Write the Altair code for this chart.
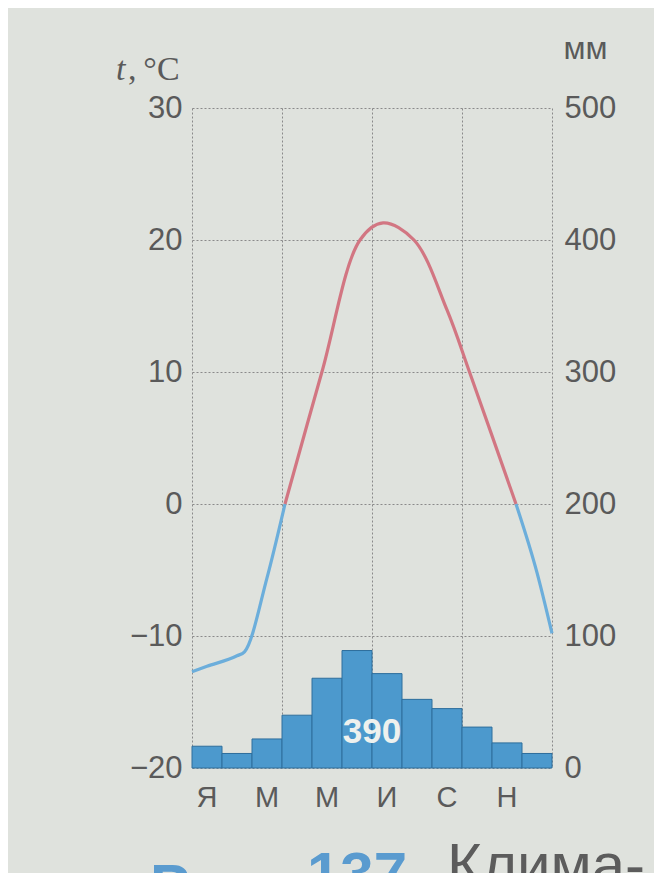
import altair as alt
import pandas as pd

# ---------------- data ----------------
month_labels = ["Я", "М", "М", "И", "С", "Н"]
month_label_pos = [0.5, 2.5, 4.5, 6.5, 8.5, 10.5]

precip_mm = [16.5, 11, 22, 40, 68, 89, 71.5, 52, 45, 31, 19, 11]
precip_total = "390"
precip_total_pos = (6.0, -17.3)

# temperature curve (month position, °C) split at the 0 °C crossings
cold1_t = [0, 0.5, 1.5, 1.75, 2.5, 3.1]
cold1_v = [-12.7, -12.3, -11.5, -11.2, -5.6, 0]
warm_t = [3.1, 4.33, 5.6, 6.37, 7.4, 8.5, 9.25, 10.8]
warm_v = [0, 10, 20, 21.3, 20, 14.7, 10, 0]
cold2_t = [10.8, 11.5, 12]
cold2_v = [0, -5.2, -9.8]

temp_ticks = [-20, -10, 0, 10, 20, 30]
mm_ticks = [0, 100, 200, 300, 400, 500]
x_grid = [0, 3, 6, 9, 12]

caption_parts = ["Рис.", "137.", "Клима-"]

# ---------------- tables ----------------
bars_df = pd.DataFrame({
    "start": list(range(12)),
    "end": [i + 1 for i in range(12)],
    "mm": precip_mm,
    "base": [0] * 12,
})
cold_df = pd.concat([
    pd.DataFrame({"t": cold1_t, "temp": cold1_v, "seg": "cold1"}),
    pd.DataFrame({"t": cold2_t, "temp": cold2_v, "seg": "cold2"}),
])
warm_df = pd.DataFrame({"t": warm_t, "temp": warm_v, "seg": "warm"})
months_df = pd.DataFrame({"t": month_label_pos, "lab": month_labels})
total_df = pd.DataFrame({"t": [precip_total_pos[0]], "temp": [precip_total_pos[1]], "lab": [precip_total]})

# ---------------- styles ----------------
W, H = 360, 660
BG = "#dfe2dd"
GRID = "#8a8a8a"
LABEL = "#5a5a5a"
BAR = "#4c99cd"
BAR_STROKE = "#2e6e9c"
RED = "#d27682"
BLUE = "#6caedb"
SANS = "Liberation Sans"
SERIF = "Liberation Serif"

x_scale = alt.Scale(domain=[0, 12], nice=False, zero=False)
x_axis = alt.Axis(values=x_grid, labels=False, ticks=False, domain=False, title=None,
                  grid=True, gridColor=GRID, gridDash=[2, 2], gridWidth=1)
t_scale = alt.Scale(domain=[-20, 30], nice=False, zero=False)
t_axis = alt.Axis(values=temp_ticks, orient="left", ticks=False, domain=False,
                  grid=True, gridColor=GRID, gridDash=[2, 2], gridWidth=1,
                  labelFont=SANS, labelFontSize=31, labelColor=LABEL, labelPadding=10,
                  title=None)
mm_scale = alt.Scale(domain=[0, 500], nice=False, zero=False)
mm_axis = alt.Axis(values=mm_ticks, orient="right", ticks=False, domain=False, grid=False,
                   labelFont=SANS, labelFontSize=31, labelColor=LABEL, labelPadding=12,
                   title="мм", titleAngle=0, titleAlign="left", titleBaseline="alphabetic",
                   titleX=11, titleY=-50, titleFont=SANS, titleFontWeight="normal",
                   titleFontSize=32, titleColor=LABEL)

bars = alt.Chart(bars_df).mark_rect(color=BAR, stroke=BAR_STROKE, strokeWidth=1).encode(
    x=alt.X("start:Q", scale=x_scale, axis=x_axis),
    x2="end:Q",
    y=alt.Y("mm:Q", scale=mm_scale, axis=mm_axis),
    y2="base:Q",
)

cold_lines = alt.Chart(cold_df).mark_line(strokeWidth=3.2, interpolate="monotone", color=BLUE).encode(
    x=alt.X("t:Q", scale=x_scale, axis=x_axis),
    y=alt.Y("temp:Q", scale=t_scale, axis=t_axis),
    detail="seg:N",
)
warm_line = alt.Chart(warm_df).mark_line(strokeWidth=3.2, interpolate="catmull-rom", color=RED).encode(
    x=alt.X("t:Q", scale=x_scale, axis=x_axis),
    y=alt.Y("temp:Q", scale=t_scale, axis=t_axis),
)

total_text = alt.Chart(total_df).mark_text(font=SANS, fontSize=35, fontWeight="bold",
                                           color="#eef1ee", baseline="middle", align="center").encode(
    x=alt.X("t:Q", scale=x_scale, axis=x_axis),
    y=alt.Y("temp:Q", scale=t_scale, axis=t_axis),
    text="lab:N",
)

temp_layer = alt.layer(cold_lines, warm_line, total_text)

month_text = alt.Chart(months_df).mark_text(font=SANS, fontSize=29, color=LABEL,
                                            baseline="top", align="center").encode(
    x=alt.X("t:Q", scale=x_scale, axis=x_axis),
    y=alt.value(H + 16),
    text="lab:N",
)

# left axis title "t,°C" (italic t, upright rest)
title_t = alt.Chart(pd.DataFrame({"lab": ["t"]})).mark_text(
    font=SERIF, fontSize=34, fontStyle="italic", color=LABEL, align="left", baseline="alphabetic"
).encode(x=alt.value(-76), y=alt.value(-28), text="lab:N")
title_c = alt.Chart(pd.DataFrame({"lab": [",\u2009°C"]})).mark_text(
    font=SERIF, fontSize=34, color=LABEL, align="left", baseline="alphabetic"
).encode(x=alt.value(-64), y=alt.value(-28), text="lab:N")

cap1 = alt.Chart(pd.DataFrame({"lab": [caption_parts[0]]})).mark_text(
    font=SANS, fontSize=60, fontWeight="bold", color="#5a9bcf", align="left", baseline="alphabetic"
).encode(x=alt.value(-42), y=alt.value(798), text="lab:N")
cap2 = alt.Chart(pd.DataFrame({"lab": [caption_parts[1]]})).mark_text(
    font=SANS, fontSize=60, fontWeight="bold", color="#5a9bcf", align="left", baseline="alphabetic"
).encode(x=alt.value(115), y=alt.value(786), text="lab:N")
cap3 = alt.Chart(pd.DataFrame({"lab": [caption_parts[2]]})).mark_text(
    font=SANS, fontSize=60, color="#5c5c5c", align="left", baseline="alphabetic"
).encode(x=alt.value(255), y=alt.value(777), text="lab:N")

chart = alt.layer(bars, temp_layer, month_text, title_t, title_c, cap1, cap2, cap3).resolve_scale(
    y="independent"
).properties(
    width=W, height=H,
    padding={"left": 184, "top": 100, "right": 102, "bottom": 105},
    autosize=alt.AutoSizeParams(type="none"),
    background=BG,
).configure_view(stroke=None)

chart.save("out.html", embed_options={"renderer": "svg", "actions": False})
